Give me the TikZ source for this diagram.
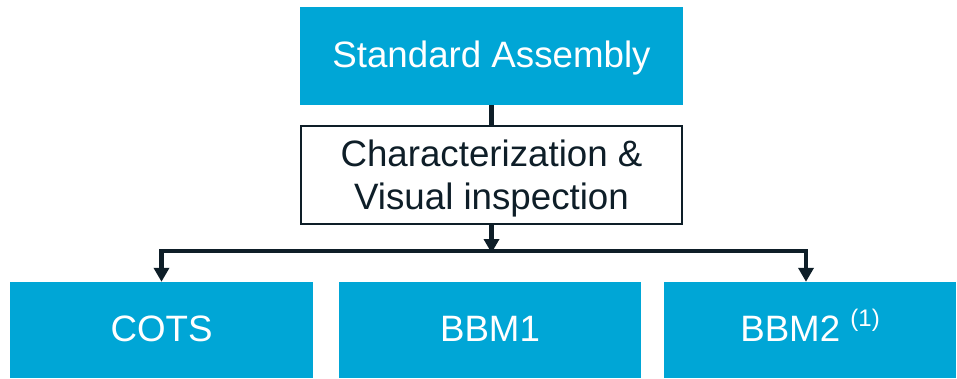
\documentclass[tikz,border=0pt]{standalone}
\usepackage{fontspec}
\setmainfont{Liberation Sans}
\usetikzlibrary{arrows.meta}
\definecolor{boxblue}{RGB}{0,166,214}
\definecolor{darkline}{RGB}{14,30,40}
\begin{document}
\begin{tikzpicture}[x=1pt,y=-1pt,
  bluebox/.style={fill=boxblue,draw=none,text=white,inner sep=0pt,text depth=0pt,
    text height=23pt,font=\fontsize{36.7}{43}\selectfont},
  whitebox/.style={fill=white,draw=darkline,line width=2pt,text=darkline,inner sep=0pt,
    text depth=0pt,align=center,font=\fontsize{36.7}{43}\selectfont},
  conn/.style={draw=darkline,line width=4.5pt,line join=miter},
  arr/.style={conn,-{Triangle[width=15pt,length=14pt]}}]
\useasboundingbox (0,0) rectangle (957,378);
\node[bluebox,minimum width=383pt,minimum height=98pt] (top) at (491.5,56) {Standard Assembly};
\node[whitebox,minimum width=381pt,minimum height=98pt] (mid) at (491.5,175) {Characterization \&\\Visual inspection};
\node[bluebox,minimum width=303pt,minimum height=96pt] (cots) at (161.5,330) {COTS};
\node[bluebox,minimum width=302pt,minimum height=96pt] (bbm1) at (490,330) {BBM1};
\node[bluebox,minimum width=292pt,minimum height=96pt] (bbm2) at (810,330) {BBM2 \smash{\raisebox{15pt}{\fontsize{24}{26}\selectfont(1)}}};
\coordinate (jm) at (491.5,251);
\coordinate (jr) at (806,251);
\draw[conn] (top.south) -- (mid.north);
\draw[arr] (mid.south) -- ([yshift=-2pt]jm);
\draw[arr] (jm) -| (cots.north);
\draw[arr] (jm) -| (jr |- bbm2.north);
\end{tikzpicture}
\end{document}
